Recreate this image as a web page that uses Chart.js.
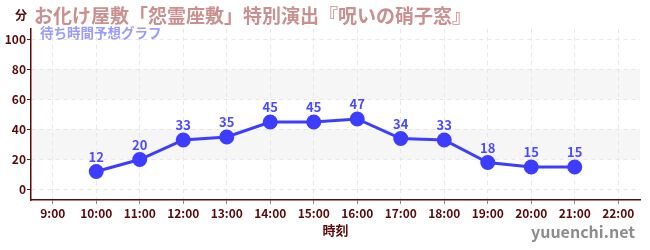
<!DOCTYPE html>
<html>
<head>
<meta charset="utf-8">
<script src="https://cdn.jsdelivr.net/npm/chart.js@4"></script>
<style>
  html, body { margin: 0; padding: 0; background: #fff; }
  #wrap { width: 650px; height: 250px; position: relative; }
</style>
</head>
<body>
<div id="wrap"><canvas id="myChart" width="650" height="250"></canvas></div>
<script>
// waiting time forecast for one attraction
const hours = ["9:00", "10:00", "11:00", "12:00", "13:00", "14:00", "15:00", "16:00", "17:00", "18:00", "19:00", "20:00", "21:00", "22:00"];
const waitMinutes = [null, 12, 20, 33, 35, 45, 45, 47, 34, 33, 18, 15, 15, null];
const yTickValues = [0, 10, 20, 30, 40, 50, 60, 70, 80, 90, 100];
const bandRanges = [[20, 40], [60, 80]];

const titleText = "お化け屋敷「怨霊座敷」特別演出『呪いの硝子窓』";
const subtitleText = "待ち時間予想グラフ";
const FONT = "'Noto Sans CJK JP', 'Noto Sans', sans-serif";
const axisColor = "#5c0a0a";
const lineColor = "#3d3dff";

const decorPlugin = {
  id: "decor",
  beforeDraw(chart) {
    const { ctx, chartArea, scales } = chart;
    ctx.save();
    ctx.fillStyle = "#f6f6f6";
    bandRanges.forEach(([a, b]) => {
      const y1 = scales.y.getPixelForValue(b);
      const y2 = scales.y.getPixelForValue(a);
      ctx.fillRect(chartArea.left, y1, chartArea.right - chartArea.left, y2 - y1);
    });
    ctx.restore();
  },
  afterDatasetsDraw(chart) {
    const { ctx } = chart;
    const meta = chart.getDatasetMeta(0);
    ctx.save();
    ctx.font = "bold 13px " + FONT;
    ctx.fillStyle = "#4a4aff";
    ctx.textAlign = "center";
    ctx.textBaseline = "bottom";
    meta.data.forEach((pt, i) => {
      const v = waitMinutes[i];
      if (v === null) return;
      ctx.fillText(String(v), pt.x, pt.y - 8);
    });
    ctx.restore();
  },
  afterDraw(chart) {
    const { ctx, chartArea } = chart;
    ctx.save();
    ctx.textBaseline = "alphabetic";
    ctx.textAlign = "left";
    ctx.font = "bold 19px " + FONT;
    ctx.fillStyle = "#c9908f";
    ctx.fillText(titleText, 34, 23);
    ctx.font = "bold 13.5px " + FONT;
    ctx.fillStyle = "#9a9aff";
    ctx.fillText(subtitleText, 40, 38);
    ctx.font = "bold 12px " + FONT;
    ctx.fillStyle = axisColor;
    ctx.fillText("分", 15, 20);
    ctx.textAlign = "center";
    ctx.font = "bold 13px " + FONT;
    ctx.fillText("時刻", (chartArea.left + chartArea.right) / 2, 235);
    ctx.textAlign = "right";
    ctx.font = "bold 16px " + FONT;
    ctx.fillStyle = "#8c8c8c";
    ctx.fillText("yuuenchi.net", 635, 238);
    ctx.restore();
  }
};

new Chart(document.getElementById("myChart"), {
  type: "line",
  data: {
    labels: hours,
    datasets: [{
      data: waitMinutes,
      borderColor: lineColor,
      backgroundColor: lineColor,
      borderWidth: 3,
      pointRadius: 6,
      pointHoverRadius: 6,
      tension: 0,
      spanGaps: false
    }]
  },
  options: {
    responsive: false,
    animation: false,
    layout: { padding: { top: 29, right: 10, left: 0, bottom: 0 } },
    plugins: { legend: { display: false }, tooltip: { enabled: false } },
    scales: {
      x: {
        offset: true,
        afterFit(scale) { scale.height = 50; },
        grid: {
          offset: false,
          color: "#e6e6e6",
          tickColor: "#888",
          tickLength: 4,
          tickBorderDash: []
        },
        border: { color: axisColor, width: 1.5, dash: [4, 4] },
        ticks: {
          color: axisColor,
          font: { family: FONT, size: 12, weight: "bold" },
          padding: 2,
          maxRotation: 0,
          autoSkip: false
        }
      },
      y: {
        min: -7,
        max: 107,
        afterFit(scale) { scale.width = 31; },
        afterBuildTicks(scale) {
          scale.ticks = yTickValues.map(v => ({ value: v }));
        },
        grid: {
          color: c => (c.tick && c.tick.value % 20 === 0 ? "#e6e6e6" : "rgba(0,0,0,0)"),
          tickColor: c => (c.tick && c.tick.value % 20 === 0 ? "#333" : "#d02020"),
          tickLength: 4,
          tickBorderDash: []
        },
        border: { color: axisColor, width: 1.5, dash: [4, 4] },
        ticks: {
          color: axisColor,
          font: { family: FONT, size: 12, weight: "bold" },
          padding: 1,
          callback: v => (v % 20 === 0 ? v : "")
        }
      }
    }
  },
  plugins: [decorPlugin]
});
</script>
</body>
</html>
